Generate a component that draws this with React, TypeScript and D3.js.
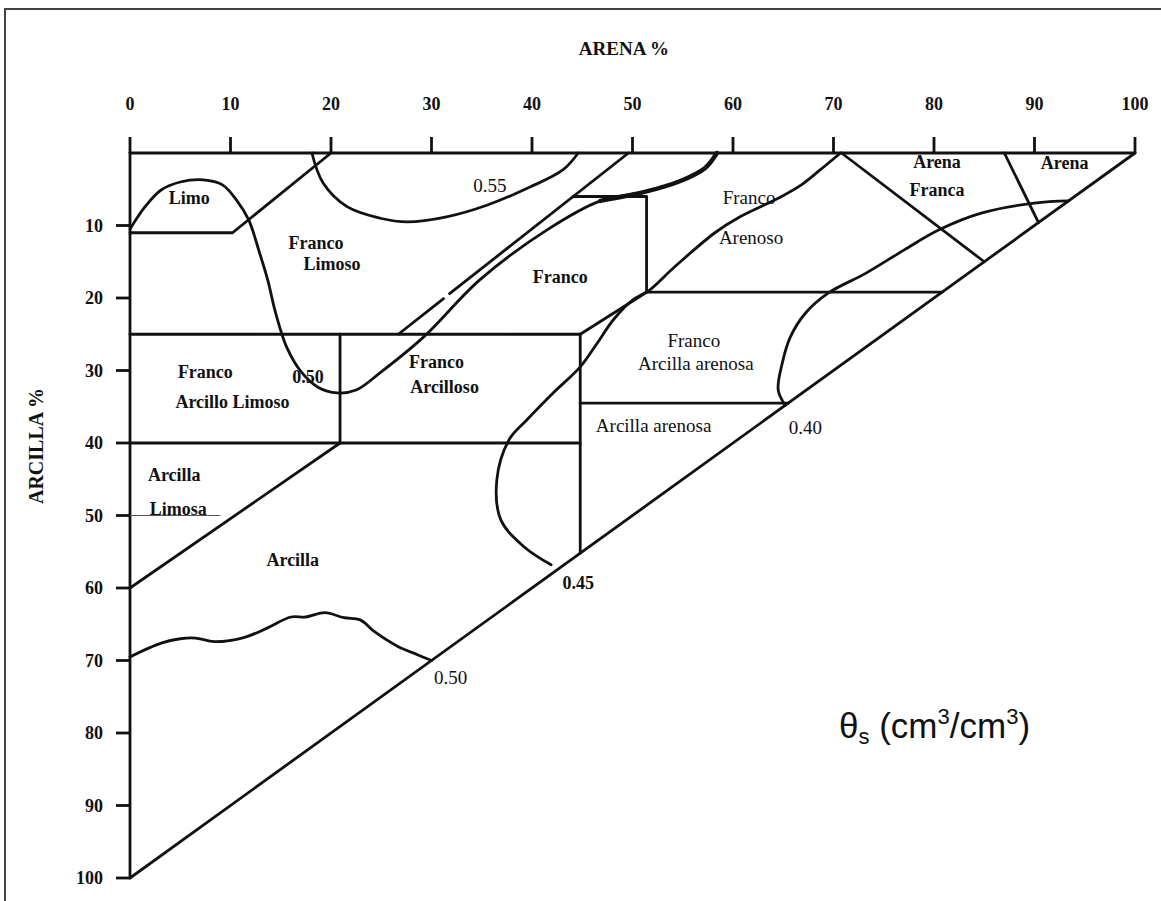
import * as d3 from "d3";

// ejes
const sandTicks = [0, 10, 20, 30, 40, 50, 60, 70, 80, 90, 100];
const clayTicks = [10, 20, 30, 40, 50, 60, 70, 80, 90, 100];

// puntos [arena %, arcilla %]
const triangleEdges = [
  [[0, 0], [100, 0]],
  [[0, 0], [0, 100]],
  [[0, 100], [100, 0]],
];

const classBoundaries = [
  [[0, 11], [10.2, 11], [20, 0]], // limo
  [[49.6, 0], [31.8, 19.4]], // franco limoso / franco
  [[31.2, 20.1], [26.7, 25]],
  [[0, 25], [44.8, 25]],
  [[20.9, 25], [20.9, 40]],
  [[0, 40], [44.8, 40]],
  [[0, 60], [20.9, 40]],
  [[44.8, 25], [44.8, 55.2]],
  [[44.8, 25], [51.4, 19.2]],
  [[44.1, 6], [51.4, 6], [51.4, 19.2]],
  [[51.4, 19.2], [80.8, 19.2]],
  [[44.8, 34.5], [65.5, 34.5]],
  [[70.8, 0], [85, 15]], // arena franca
  [[87, 0], [90.4, 9.6]], // arena
];

const limosaMark = [[0, 50], [9, 50]];

// isolíneas de θs
const iso055 = [
  [18.1, 0], [19.2, 4.1], [21.6, 7.4], [24.9, 9.0], [27.6, 9.5], [31.5, 8.8],
  [35.5, 7.2], [39.8, 4.7], [43.1, 2.3], [44.6, 0],
];
const iso050Upper = [
  [0, 10.5], [1.5, 7.4], [3.1, 5.1], [5.0, 4.0], [7.3, 3.7], [9.2, 4.4],
  [10.6, 6.5], [11.8, 9.2], [12.9, 13.8], [13.7, 17.5], [14.5, 22.1],
  [15.6, 26.8], [17.1, 30.3], [18.7, 32.3], [20.6, 33.1], [22.5, 32.7],
  [24.9, 30.3], [29.2, 25.4], [34.8, 17.5], [41.5, 10.6], [46.8, 6.6],
  [51.4, 5.3], [54.7, 3.9], [57.2, 2.1], [58.4, 0],
];
const iso050Lower = [
  [0, 69.5], [3.1, 67.6], [5.0, 67.0], [6.5, 66.9], [8.4, 67.4], [11.4, 66.8],
  [13.7, 65.5], [16.0, 64.0], [17.5, 64.0], [19.4, 63.4], [21.3, 64.1],
  [22.9, 64.4], [24.4, 66.1], [26.7, 68.1], [28.6, 69.2], [30, 70],
];
const iso045 = [
  [70.7, 0], [68.7, 2.3], [66.8, 4.4], [64.7, 6.1], [60.7, 8.8], [58.2, 11.0],
  [54.2, 15.7], [51.7, 18.9], [50.0, 20.3], [48.1, 23.0], [46.5, 26.2],
  [44.8, 29.5], [42.1, 33.1], [39.5, 36.8], [37.7, 39.6], [36.5, 45.1],
  [36.9, 50.6], [39.2, 54.3], [41.9, 56.8],
];
const iso040 = [
  [93.4, 6.6], [90.0, 6.9], [84.7, 8.3], [80.5, 10.6], [77.0, 13.4],
  [73.2, 16.6], [69.5, 19.3], [67.2, 22.1], [65.7, 25.4], [64.9, 29.0],
  [64.5, 32.7], [65.2, 34.8],
];

// etiquetas [texto, arena, arcilla, negrita]
const classLabels: [string, number, number, boolean][] = [
  ["Limo", 5.9, 6.1, true],
  ["Franco", 18.5, 12.4, true],
  ["Limoso", 20.1, 15.2, true],
  ["Franco", 42.8, 17.1, true],
  ["Franco", 61.6, 6.1, false],
  ["Arenoso", 61.8, 11.6, false],
  ["Arena", 80.3, 1.2, true],
  ["Franca", 80.3, 5.1, true],
  ["Arena", 93.0, 1.4, true],
  ["Franco", 30.5, 28.8, true],
  ["Arcilloso", 31.3, 32.3, true],
  ["Franco", 7.5, 30.2, true],
  ["Arcillo Limoso", 10.2, 34.3, true],
  ["Franco", 56.1, 25.8, false],
  ["Arcilla arenosa", 56.3, 29.0, false],
  ["Arcilla arenosa", 52.1, 37.5, false],
  ["Arcilla", 4.4, 44.4, true],
  ["Limosa", 4.8, 49.1, true],
  ["Arcilla", 16.2, 56.1, true],
];
const isoLabels: [string, number, number, boolean][] = [
  ["0.55", 35.8, 4.4, false],
  ["0.50", 17.7, 30.9, true],
  ["0.40", 67.2, 37.8, false],
  ["0.45", 44.6, 59.2, true],
  ["0.50", 31.9, 72.3, false],
];

const serif = "'Liberation Serif', 'Times New Roman', serif";
const ink = "#111";

export default function App() {
  const W = 1161;
  const H = 901;
  const x = d3.scaleLinear().domain([0, 100]).range([130, 1135]);
  const y = d3.scaleLinear().domain([0, 100]).range([153, 878]);

  const straight = d3
    .line<number[]>()
    .x((d) => x(d[0]))
    .y((d) => y(d[1]));
  const smooth = d3
    .line<number[]>()
    .x((d) => x(d[0]))
    .y((d) => y(d[1]))
    .curve(d3.curveCatmullRom.alpha(0.5));

  const isolines = [iso055, iso050Upper, iso050Lower, iso045, iso040];

  return (
    <svg
      width={W}
      height={H}
      style={{ position: "absolute", left: 0, top: 0, background: "#fff" }}
    >
      <rect x={0} y={0} width={W} height={H} fill="#fff" />
      {/* marco */}
      <rect
        x={5}
        y={9}
        width={W + 10}
        height={H + 10}
        fill="none"
        stroke="#444"
        strokeWidth={2}
      />

      {/* título de ejes */}
      <text
        x={624}
        y={55}
        textAnchor="middle"
        fontFamily={serif}
        fontWeight="bold"
        fontSize={19}
        fill={ink}
      >
        ARENA %
      </text>
      <text
        transform={`translate(43, ${446}) rotate(-90)`}
        textAnchor="middle"
        fontFamily={serif}
        fontWeight="bold"
        fontSize={20}
        fill={ink}
      >
        ARCILLA %
      </text>

      {/* ticks superiores */}
      {sandTicks.map((t) => (
        <g key={"s" + t}>
          <line
            x1={x(t)}
            x2={x(t)}
            y1={y(0)}
            y2={y(0) - 16}
            stroke={ink}
            strokeWidth={2.8}
          />
          <text
            x={x(t)}
            y={110}
            textAnchor="middle"
            fontFamily={serif}
            fontWeight="bold"
            fontSize={18}
            fill={ink}
          >
            {t}
          </text>
        </g>
      ))}

      {/* ticks izquierdos */}
      {clayTicks.map((t) => (
        <g key={"c" + t}>
          <line
            x1={x(0) - 14}
            x2={x(0)}
            y1={y(t)}
            y2={y(t)}
            stroke={ink}
            strokeWidth={2.8}
          />
          <text
            x={x(0) - 27}
            y={y(t)}
            dy="0.35em"
            textAnchor="end"
            fontFamily={serif}
            fontWeight="bold"
            fontSize={18}
            fill={ink}
          >
            {t}
          </text>
        </g>
      ))}

      {/* triángulo y clases texturales */}
      {[...triangleEdges, ...classBoundaries].map((seg, i) => (
        <path
          key={"b" + i}
          d={straight(seg) || ""}
          fill="none"
          stroke={ink}
          strokeWidth={2.8}
          strokeLinecap="round"
          strokeLinejoin="round"
        />
      ))}
      <path
        d={straight(limosaMark) || ""}
        fill="none"
        stroke="#555"
        strokeWidth={1.2}
      />

      {/* isolíneas */}
      {isolines.map((pts, i) => (
        <path
          key={"i" + i}
          d={smooth(pts) || ""}
          fill="none"
          stroke={ink}
          strokeWidth={2.8}
          strokeLinecap="round"
          strokeLinejoin="round"
        />
      ))}
      <path
        d={smooth(iso050Upper.slice(-5)) || ""}
        fill="none"
        stroke={ink}
        strokeWidth={4.5}
        strokeLinecap="round"
      />

      {/* etiquetas */}
      {[...classLabels, ...isoLabels].map(([txt, s, c, b], i) => (
        <text
          key={"l" + i}
          x={x(s)}
          y={y(c)}
          dy="0.35em"
          textAnchor="middle"
          fontFamily={serif}
          fontWeight={b ? "bold" : "normal"}
          fontSize={b ? 18 : 19}
          fill={ink}
        >
          {txt}
        </text>
      ))}

      {/* unidades */}
      <text
        x={839}
        y={738}
        fontFamily="'Liberation Sans', Arial, sans-serif"
        fontSize={35}
        fill="#111"
      >
        θ
        <tspan fontSize={22} dy={6}>
          s
        </tspan>
        <tspan dy={-6}>{" (cm"}</tspan>
        <tspan fontSize={22} dy={-14}>
          3
        </tspan>
        <tspan dy={14}>/cm</tspan>
        <tspan fontSize={22} dy={-14}>
          3
        </tspan>
        <tspan dy={14}>)</tspan>
      </text>
    </svg>
  );
}
